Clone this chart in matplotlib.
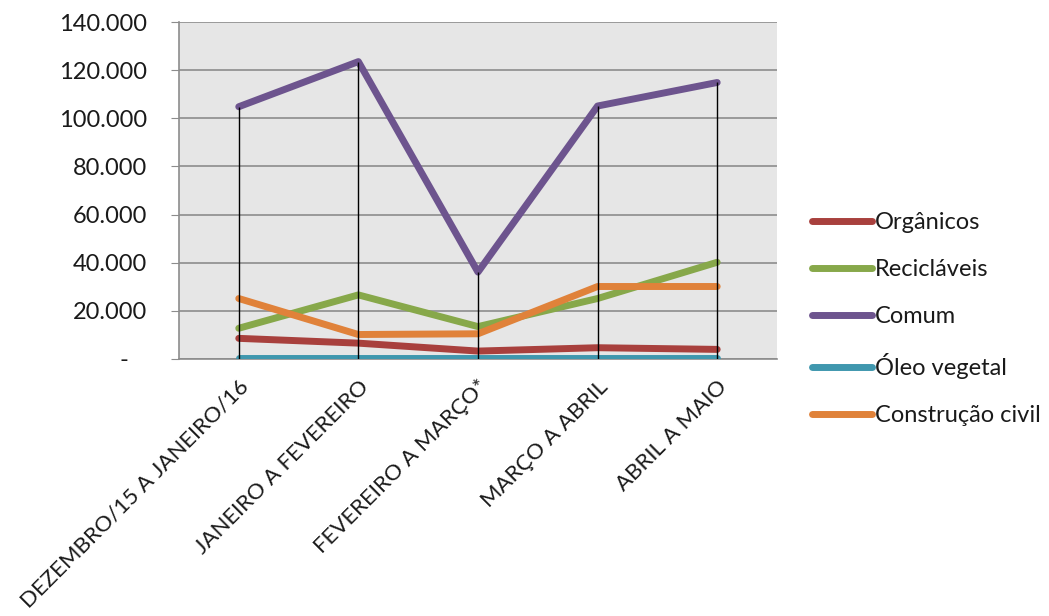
import matplotlib.pyplot as plt
import numpy as np
from matplotlib.ticker import FuncFormatter

periodos = ['DEZEMBRO/15 A JANEIRO/16', 'JANEIRO A FEVEREIRO', 'FEVEREIRO A MARÇO*',
            'MARÇO A ABRIL', 'ABRIL A MAIO']
organicos = [8400, 6400, 3100, 4500, 3800]
reciclaveis = [12600, 26500, 13300, 25000, 40100]
comum = [104900, 123700, 36000, 105200, 115000]
oleo = [300, 300, 300, 300, 300]
construcao = [25000, 10000, 10300, 30000, 30000]

nomes = ['Orgânicos', 'Recicláveis', 'Comum', 'Óleo vegetal', 'Construção civil']
cores = ['#A8403D', '#87A84A', '#6D548E', '#3F97AE', '#E0823A']

plt.rcParams['font.family'] = ['Lato', 'DejaVu Sans']

fig = plt.figure(figsize=(10.49, 6.16), dpi=100)
ax = fig.add_axes([0.1706, 0.418, 0.5701, 0.5455])
ax.set_facecolor('#E6E6E6')

x = np.arange(len(periodos))
series = [organicos, reciclaveis, comum, oleo, construcao]
for vals, nome, cor in zip(series, nomes, cores):
    ax.plot(x, vals, color=cor, lw=5, label=nome, solid_capstyle='round',
            solid_joinstyle='round', zorder=3)

# linhas de queda (drop lines) do maior valor ate o eixo
topo = np.max(np.array(series), axis=0)
ax.vlines(x, 0, topo, color='black', lw=1, zorder=4)

ax.set_xlim(-0.5, len(periodos) - 0.5)
ax.set_ylim(0, 140000)
ax.set_yticks(np.arange(0, 140001, 20000))
ax.yaxis.set_major_formatter(FuncFormatter(
    lambda v, p: '-   ' if v == 0 else f'{int(v):,}'.replace(',', '.')))
ax.grid(axis='y', color='#8C8C8C', lw=1.2, zorder=1)
ax.set_axisbelow(True)

for s in ['top', 'right']:
    ax.spines[s].set_visible(False)
for s in ['left', 'bottom']:
    ax.spines[s].set_color('#8C8C8C')
    ax.spines[s].set_linewidth(1.2)

ax.tick_params(axis='y', length=6, color='#8C8C8C', labelsize=17, pad=17, labelcolor='#1A1A1A')
ax.tick_params(axis='x', length=0, labelsize=16, pad=13, labelcolor='#1A1A1A')
ax.set_xticks(x)
ax.set_xticklabels(periodos, rotation=45, ha='right', rotation_mode='anchor')

leg = fig.legend(loc='upper left', bbox_to_anchor=(812 / 1049, 1 - 212 / 616),
                 bbox_transform=fig.transFigure, frameon=False, borderpad=0,
                 borderaxespad=0, fontsize=17, handlelength=2.55,
                 handletextpad=0.1, labelspacing=1.1)
for t in leg.get_texts():
    t.set_color('#1A1A1A')

fig.savefig('out.png', dpi=100)
